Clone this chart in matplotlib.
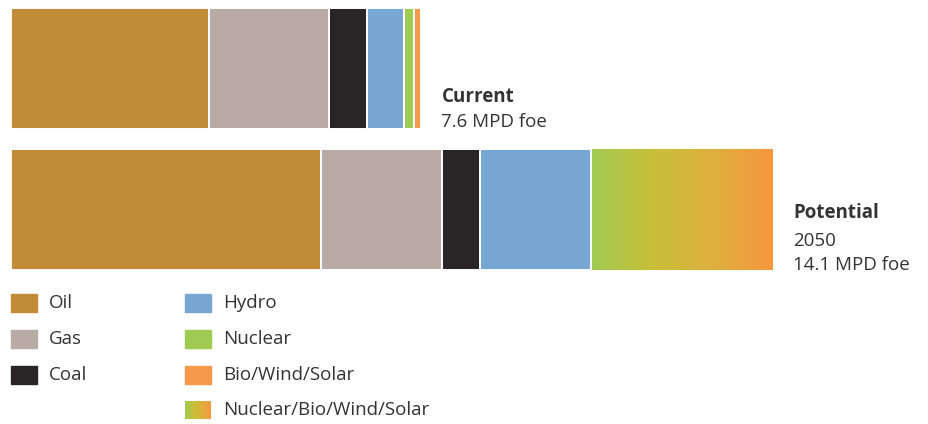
import matplotlib.pyplot as plt
import numpy as np
from matplotlib.colors import LinearSegmentedColormap

plt.rcParams['font.family'] = ['Open Sans', 'DejaVu Sans']

# données (MPD foe)
categories = ["Oil", "Gas", "Coal", "Hydro", "Nuclear", "Bio/Wind/Solar"]
current = [3.67, 2.22, 0.70, 0.69, 0.19, 0.13]
potential = [5.74, 2.24, 0.70, 2.06, 3.37]   # dernier = Nuclear/Bio/Wind/Solar
bar_titles = ["Current", "Potential"]
bar_subtitles = ["7.6 MPD foe", "2050\n14.1 MPD foe"]

colors = {
    "Oil": "#c28b38",
    "Gas": "#b9aaa6",
    "Coal": "#292425",
    "Hydro": "#78a7d3",
    "Nuclear": "#a0cb53",
    "Bio/Wind/Solar": "#f6994a",
}
grad = LinearSegmentedColormap.from_list("nbws", ["#a0cb53", "#c8bf38", "#deb03e", "#f7973f"])
txt = "#333333"

W, H = 929, 424
px = 54.0  # pixels par unité
fig = plt.figure(figsize=(W / 100, H / 100), dpi=100)

# axe des barres : x en MPD foe, y en pixels
ax = fig.add_axes([0, 0, 1, 1])
ax.set_xlim(-11 / px, (W - 11) / px)
ax.set_ylim(H, 0)
ax.axis("off")

# barre actuelle
left = 0
for cat, v in zip(categories, current):
    ax.barh(68.5, v, left=left, height=121, color=colors[cat],
            edgecolor="white", linewidth=1.4)
    left += v
ax.text(left + 20 / px, 97, bar_titles[0], fontsize=13.5, fontweight="bold",
        color=txt, va="center")
ax.text(left + 20 / px, 122, bar_subtitles[0], fontsize=13.5, color=txt, va="center")

# barre potentielle
left = 0
for cat, v in zip(categories[:4], potential[:4]):
    ax.barh(209.5, v, left=left, height=121, color=colors[cat],
            edgecolor="white", linewidth=1.4)
    left += v
g = np.linspace(0, 1, 256).reshape(1, -1)
ax.imshow(g, cmap=grad, aspect="auto",
          extent=[left + 1 / px, left + potential[4], 270, 149], zorder=3)
end = left + potential[4]
ax.text(end + 20 / px, 213, bar_titles[1], fontsize=13.5, fontweight="bold",
        color=txt, va="center")
ax.text(end + 20 / px, 253, bar_subtitles[1], fontsize=13.5, color=txt,
        va="center", linespacing=1.45)
ax.set_xlim(-11 / px, (W - 11) / px)
ax.set_ylim(H, 0)

# légende (en pixels)
lax = fig.add_axes([0, 0, 1, 1])
lax.set_xlim(0, W)
lax.set_ylim(H, 0)
lax.axis("off")
legend_items = [("Oil", 11, 303), ("Gas", 11, 339), ("Coal", 11, 375),
                ("Hydro", 185, 303), ("Nuclear", 185, 339),
                ("Bio/Wind/Solar", 185, 375)]
for lab, x0, yc in legend_items:
    lax.add_patch(plt.Rectangle((x0, yc - 9), 26, 18, color=colors[lab]))
    lax.text(x0 + 38, yc, lab, fontsize=13.5, color=txt, va="center")
lax.imshow(g, cmap=grad, aspect="auto", extent=[185, 211, 419, 401])
lax.text(223, 410, "Nuclear/Bio/Wind/Solar", fontsize=13.5, color=txt, va="center")
lax.set_xlim(0, W)
lax.set_ylim(H, 0)

fig.savefig("out.png", dpi=100)
